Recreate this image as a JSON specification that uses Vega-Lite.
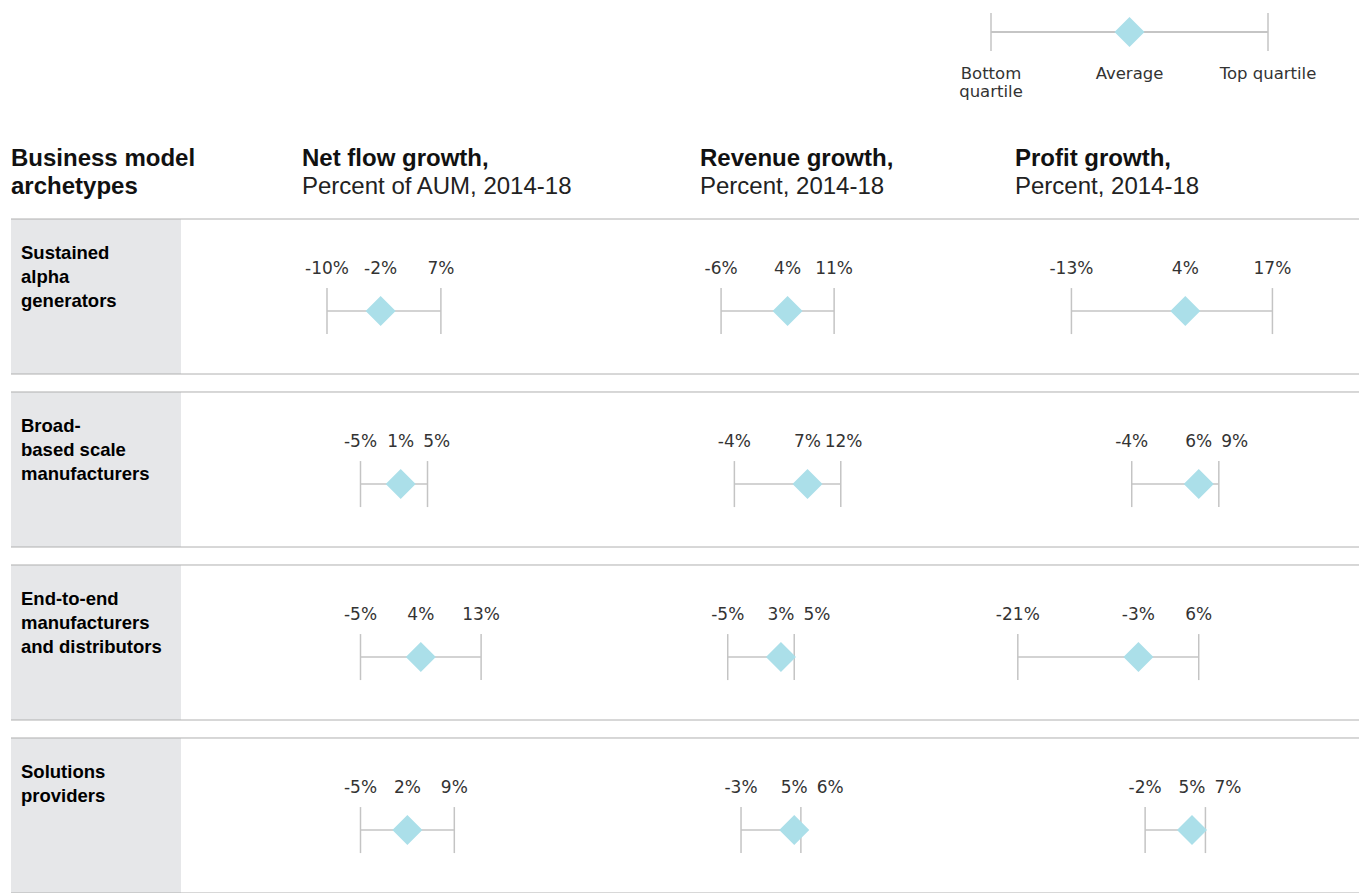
{
  "$schema": "https://vega.github.io/schema/vega-lite/v6.json",
  "background": "white",
  "padding": {"left": 10, "top": 12, "right": 0, "bottom": 0},
  "data": {"values": [
    {"archetype": "Sustained alpha generators", "label": ["Sustained", "alpha", "generators"], "netLow": -10, "netAvg": -2, "netHigh": 7, "revLow": -6, "revAvg": 4, "revHigh": 11, "profLow": -13, "profAvg": 4, "profHigh": 17},
    {"archetype": "Broad-based scale manufacturers", "label": ["Broad-", "based scale", "manufacturers"], "netLow": -5, "netAvg": 1, "netHigh": 5, "revLow": -4, "revAvg": 7, "revHigh": 12, "profLow": -4, "profAvg": 6, "profHigh": 9},
    {"archetype": "End-to-end manufacturers and distributors", "label": ["End-to-end", "manufacturers", "and distributors"], "netLow": -5, "netAvg": 4, "netHigh": 13, "revLow": -5, "revAvg": 3, "revHigh": 5, "profLow": -21, "profAvg": -3, "profHigh": 6},
    {"archetype": "Solutions providers", "label": ["Solutions", "providers"], "netLow": -5, "netAvg": 2, "netHigh": 9, "revLow": -3, "revAvg": 5, "revHigh": 6, "profLow": -2, "profAvg": 5, "profHigh": 7}
  ]},
  "config": {
    "view": {"stroke": null},
    "text": {"font": "DejaVu Sans"},
    "title": {"anchor": "start", "frame": "group", "font": "Liberation Sans", "fontSize": 24, "fontWeight": "bold", "color": "#111", "lineHeight": 28, "offset": 20, "subtitleFont": "Liberation Sans", "subtitleFontSize": 24, "subtitleFontWeight": "normal", "subtitleColor": "#222", "subtitlePadding": 4}
  },
  "spacing": 168,
  "bounds": "flush",
  "vconcat": [
    {
      "width": 1349,
      "height": 38,
      "data": {"values": [
        {"role": "Bottom quartile", "label": ["Bottom", "quartile"]},
        {"role": "Average", "label": ["Average"]},
        {"role": "Top quartile", "label": ["Top quartile"]}
      ]},
      "layer": [
        {"mark": {"type": "rule", "color": "#c4c4c4", "strokeWidth": 1.5},
         "encoding": {
           "x": {"datum": "Bottom quartile", "type": "nominal", "axis": null, "scale": {"type": "point", "domain": ["Bottom quartile", "Average", "Top quartile"], "range": [980, 1257], "padding": 0}},
           "x2": {"datum": "Top quartile"}}},
        {"transform": [{"filter": "datum.role !== 'Average'"}],
         "mark": {"type": "rule", "color": "#c4c4c4", "strokeWidth": 1.5},
         "encoding": {"x": {"field": "role", "type": "nominal", "axis": null, "scale": {"type": "point", "domain": ["Bottom quartile", "Average", "Top quartile"], "range": [980, 1257], "padding": 0}}}},
        {"transform": [{"filter": "datum.role === 'Average'"}],
         "mark": {"type": "point", "shape": "diamond", "size": 900, "filled": true, "color": "#abdfe9", "opacity": 1},
         "encoding": {"x": {"field": "role", "type": "nominal", "axis": null, "scale": {"type": "point", "domain": ["Bottom quartile", "Average", "Top quartile"], "range": [980, 1257], "padding": 0}}}},
        {"mark": {"type": "text", "align": "center", "baseline": "top", "dy": 34, "fontSize": 16.5, "lineHeight": 18, "color": "#333"},
         "encoding": {"x": {"field": "role", "type": "nominal", "axis": null, "scale": {"type": "point", "domain": ["Bottom quartile", "Average", "Top quartile"], "range": [980, 1257], "padding": 0}}, "text": {"field": "label"}}}
      ]
    },
    {
      "spacing": 0,
      "bounds": "flush",
      "hconcat": [
        {
          "width": 170,
          "height": 674,
          "title": {"text": ["Business model", "archetypes"]},
          "layer": [
            {"mark": {"type": "rect", "color": "#e6e7e9"},
             "encoding": {"y": {"field": "archetype", "type": "nominal", "sort": null, "axis": null, "scale": {"domain": ["Sustained alpha generators", "Broad-based scale manufacturers", "End-to-end manufacturers and distributors", "Solutions providers"], "paddingInner": 0.104, "paddingOuter": 0}}}},
            {"mark": {"type": "rule", "color": "#b0b0b0"},
             "encoding": {"y": {"field": "archetype", "type": "nominal", "sort": null, "axis": null, "bandPosition": 0, "scale": {"domain": ["Sustained alpha generators", "Broad-based scale manufacturers", "End-to-end manufacturers and distributors", "Solutions providers"], "paddingInner": 0.104, "paddingOuter": 0}}}},
            {"mark": {"type": "rule", "color": "#b0b0b0"},
             "encoding": {"y": {"field": "archetype", "type": "nominal", "sort": null, "axis": null, "bandPosition": 1, "scale": {"domain": ["Sustained alpha generators", "Broad-based scale manufacturers", "End-to-end manufacturers and distributors", "Solutions providers"], "paddingInner": 0.104, "paddingOuter": 0}}}},
            {"mark": {"type": "text", "font": "Liberation Sans", "align": "left", "baseline": "top", "dx": -75, "dy": 25, "fontSize": 18.5, "fontWeight": "bold", "lineHeight": 24, "color": "#000"},
             "encoding": {"y": {"field": "archetype", "type": "nominal", "sort": null, "axis": null, "bandPosition": 0, "scale": {"domain": ["Sustained alpha generators", "Broad-based scale manufacturers", "End-to-end manufacturers and distributors", "Solutions providers"], "paddingInner": 0.104, "paddingOuter": 0}}, "text": {"field": "label"}}}
          ]
        },
        {
          "width": 519,
          "height": 674,
          "title": {"text": "Net flow growth,", "subtitle": "Percent of AUM, 2014-18", "dx": 121},
          "encoding": {
            "y": {"field": "archetype", "type": "nominal", "sort": null, "axis": null, "bandPosition": 0.594, "scale": {"domain": ["Sustained alpha generators", "Broad-based scale manufacturers", "End-to-end manufacturers and distributors", "Solutions providers"], "paddingInner": 0.104, "paddingOuter": 0}}
          },
          "layer": [
            {"mark": {"type": "rule", "color": "#b0b0b0"},
             "encoding": {"y": {"field": "archetype", "type": "nominal", "sort": null, "axis": null, "bandPosition": 0}}},
            {"mark": {"type": "rule", "color": "#b0b0b0"},
             "encoding": {"y": {"field": "archetype", "type": "nominal", "sort": null, "axis": null, "bandPosition": 1}}},
            {"mark": {"type": "rule", "color": "#c4c4c4", "strokeWidth": 1.5},
             "encoding": {"x": {"field": "netLow", "type": "quantitative", "axis": null, "scale": {"domain": [-31.79, 45.67], "nice": false, "zero": false}}, "x2": {"field": "netHigh"}}},
            {"mark": {"type": "point", "shape": "M0,-1V1", "size": 2116, "filled": false, "stroke": "#c4c4c4", "strokeWidth": 1.5, "opacity": 1},
             "encoding": {"x": {"field": "netLow", "type": "quantitative"}}},
            {"mark": {"type": "point", "shape": "M0,-1V1", "size": 2116, "filled": false, "stroke": "#c4c4c4", "strokeWidth": 1.5, "opacity": 1},
             "encoding": {"x": {"field": "netHigh", "type": "quantitative"}}},
            {"mark": {"type": "point", "shape": "diamond", "size": 900, "filled": true, "color": "#abdfe9", "opacity": 1},
             "encoding": {"x": {"field": "netAvg", "type": "quantitative"}}},
            {"mark": {"type": "text", "baseline": "middle", "dy": -42, "fontSize": 17, "color": "#333", "text": {"expr": "datum.netLow + '%'"}},
             "encoding": {"x": {"field": "netLow", "type": "quantitative"}}},
            {"mark": {"type": "text", "baseline": "middle", "dy": -42, "fontSize": 17, "color": "#333", "text": {"expr": "datum.netAvg + '%'"}},
             "encoding": {"x": {"field": "netAvg", "type": "quantitative"}}},
            {"mark": {"type": "text", "baseline": "middle", "dy": -42, "fontSize": 17, "color": "#333", "text": {"expr": "datum.netHigh + '%'"}, "dx": {"expr": "max(0, 36 - 6.7 * (datum.netHigh - datum.netAvg))"}},
             "encoding": {"x": {"field": "netHigh", "type": "quantitative"}}}
          ]
        },
        {
          "width": 315,
          "height": 674,
          "title": {"text": "Revenue growth,", "subtitle": "Percent, 2014-18"},
          "encoding": {
            "y": {"field": "archetype", "type": "nominal", "sort": null, "axis": null, "bandPosition": 0.594, "scale": {"domain": ["Sustained alpha generators", "Broad-based scale manufacturers", "End-to-end manufacturers and distributors", "Solutions providers"], "paddingInner": 0.104, "paddingOuter": 0}}
          },
          "layer": [
            {"mark": {"type": "rule", "color": "#b0b0b0"},
             "encoding": {"y": {"field": "archetype", "type": "nominal", "sort": null, "axis": null, "bandPosition": 0}}},
            {"mark": {"type": "rule", "color": "#b0b0b0"},
             "encoding": {"y": {"field": "archetype", "type": "nominal", "sort": null, "axis": null, "bandPosition": 1}}},
            {"mark": {"type": "rule", "color": "#c4c4c4", "strokeWidth": 1.5},
             "encoding": {"x": {"field": "revLow", "type": "quantitative", "axis": null, "scale": {"domain": [-9.17, 38.2], "nice": false, "zero": false}}, "x2": {"field": "revHigh"}}},
            {"mark": {"type": "point", "shape": "M0,-1V1", "size": 2116, "filled": false, "stroke": "#c4c4c4", "strokeWidth": 1.5, "opacity": 1},
             "encoding": {"x": {"field": "revLow", "type": "quantitative"}}},
            {"mark": {"type": "point", "shape": "M0,-1V1", "size": 2116, "filled": false, "stroke": "#c4c4c4", "strokeWidth": 1.5, "opacity": 1},
             "encoding": {"x": {"field": "revHigh", "type": "quantitative"}}},
            {"mark": {"type": "point", "shape": "diamond", "size": 900, "filled": true, "color": "#abdfe9", "opacity": 1},
             "encoding": {"x": {"field": "revAvg", "type": "quantitative"}}},
            {"mark": {"type": "text", "baseline": "middle", "dy": -42, "fontSize": 17, "color": "#333", "text": {"expr": "datum.revLow + '%'"}},
             "encoding": {"x": {"field": "revLow", "type": "quantitative"}}},
            {"mark": {"type": "text", "baseline": "middle", "dy": -42, "fontSize": 17, "color": "#333", "text": {"expr": "datum.revAvg + '%'"}},
             "encoding": {"x": {"field": "revAvg", "type": "quantitative"}}},
            {"mark": {"type": "text", "baseline": "middle", "dy": -42, "fontSize": 17, "color": "#333", "text": {"expr": "datum.revHigh + '%'"}, "dx": {"expr": "max(0, 36 - 6.65 * (datum.revHigh - datum.revAvg))"}},
             "encoding": {"x": {"field": "revHigh", "type": "quantitative"}}}
          ]
        },
        {
          "width": 345,
          "height": 674,
          "title": {"text": "Profit growth,", "subtitle": "Percent, 2014-18"},
          "encoding": {
            "y": {"field": "archetype", "type": "nominal", "sort": null, "axis": null, "bandPosition": 0.594, "scale": {"domain": ["Sustained alpha generators", "Broad-based scale manufacturers", "End-to-end manufacturers and distributors", "Solutions providers"], "paddingInner": 0.104, "paddingOuter": 0}}
          },
          "layer": [
            {"mark": {"type": "rule", "color": "#b0b0b0"},
             "encoding": {"y": {"field": "archetype", "type": "nominal", "sort": null, "axis": null, "bandPosition": 0}}},
            {"mark": {"type": "rule", "color": "#b0b0b0"},
             "encoding": {"y": {"field": "archetype", "type": "nominal", "sort": null, "axis": null, "bandPosition": 1}}},
            {"mark": {"type": "rule", "color": "#c4c4c4", "strokeWidth": 1.5},
             "encoding": {"x": {"field": "profLow", "type": "quantitative", "axis": null, "scale": {"domain": [-21.42, 30.07], "nice": false, "zero": false}}, "x2": {"field": "profHigh"}}},
            {"mark": {"type": "point", "shape": "M0,-1V1", "size": 2116, "filled": false, "stroke": "#c4c4c4", "strokeWidth": 1.5, "opacity": 1},
             "encoding": {"x": {"field": "profLow", "type": "quantitative"}}},
            {"mark": {"type": "point", "shape": "M0,-1V1", "size": 2116, "filled": false, "stroke": "#c4c4c4", "strokeWidth": 1.5, "opacity": 1},
             "encoding": {"x": {"field": "profHigh", "type": "quantitative"}}},
            {"mark": {"type": "point", "shape": "diamond", "size": 900, "filled": true, "color": "#abdfe9", "opacity": 1},
             "encoding": {"x": {"field": "profAvg", "type": "quantitative"}}},
            {"mark": {"type": "text", "baseline": "middle", "dy": -42, "fontSize": 17, "color": "#333", "text": {"expr": "datum.profLow + '%'"}},
             "encoding": {"x": {"field": "profLow", "type": "quantitative"}}},
            {"mark": {"type": "text", "baseline": "middle", "dy": -42, "fontSize": 17, "color": "#333", "text": {"expr": "datum.profAvg + '%'"}},
             "encoding": {"x": {"field": "profAvg", "type": "quantitative"}}},
            {"mark": {"type": "text", "baseline": "middle", "dy": -42, "fontSize": 17, "color": "#333", "text": {"expr": "datum.profHigh + '%'"}, "dx": {"expr": "max(0, 36 - 6.7 * (datum.profHigh - datum.profAvg))"}},
             "encoding": {"x": {"field": "profHigh", "type": "quantitative"}}}
          ]
        }
      ]
    }
  ]
}
